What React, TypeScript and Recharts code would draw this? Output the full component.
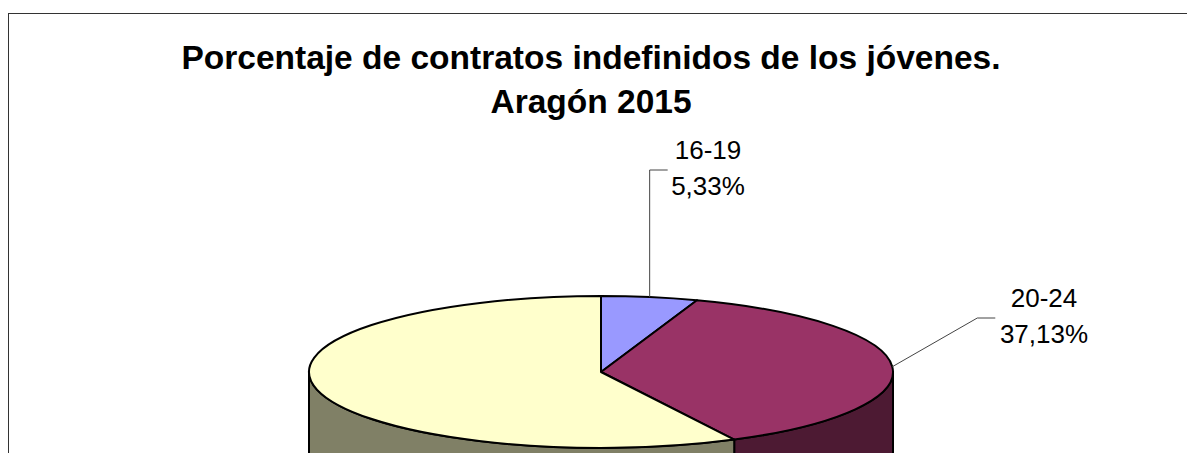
import React from "react";
import { PieChart, Pie } from "recharts";

// age groups and share of permanent contracts (%)
const ageGroups = ["16-19", "20-24", "25-29"];
const shares = [5.33, 37.13, 57.54];
const shareLabels = ["5,33%", "37,13%", "57,54%"];
const topColors = ["#9999FF", "#993366", "#FFFFCC"];
const sideColors = ["#4D4D80", "#4D1A33", "#808066"];

const titleLines = ["Porcentaje de contratos indefinidos de los jóvenes.", "Aragón 2015"];

const data = ageGroups.map((name, i) => ({
  name,
  value: shares[i],
  pct: shareLabels[i],
  top: topColors[i],
  side: sideColors[i],
}));

// leader line layout per label (elbow offset from the pie edge, text centre);
// the third label sits below the visible area in the reference, so it has none
const leaderLayout = [
  { dx: 0, y: 170, textX: 708 },
  { dx: 85, y: 318, textX: 1044 },
];

const TILT = 0.26; // vertical squash of the pie top
const DEPTH = 90;
const RAD = Math.PI / 180;
const FONT = "Arial, 'Liberation Sans', sans-serif";

const onEllipse = (cx: number, cy: number, rx: number, a: number) => ({
  x: cx + rx * Math.cos(a * RAD),
  y: cy - rx * TILT * Math.sin(a * RAD),
});

function Slice3D(props: any) {
  const { cx, cy, outerRadius: rx, startAngle, endAngle } = props;
  const entry = props.payload ?? props;
  const ry = rx * TILT;
  const s = onEllipse(cx, cy, rx, startAngle);
  const e = onEllipse(cx, cy, rx, endAngle);
  const large = Math.abs(startAngle - endAngle) > 180 ? 1 : 0;
  const topPath = `M${cx},${cy} L${s.x},${s.y} A${rx},${ry} 0 ${large} 1 ${e.x},${e.y} Z`;

  // front wall: only the part of the slice on the lower half of the ellipse
  const hi = Math.min(startAngle, 0);
  const lo = Math.max(endAngle, -180);
  let wall = null;
  if (hi > lo) {
    const a = onEllipse(cx, cy, rx, hi);
    const b = onEllipse(cx, cy, rx, lo);
    const d =
      `M${a.x},${a.y} A${rx},${ry} 0 0 1 ${b.x},${b.y} ` +
      `L${b.x},${b.y + DEPTH} A${rx},${ry} 0 0 0 ${a.x},${a.y + DEPTH} Z`;
    wall = <path d={d} fill={entry.side} stroke="#000" strokeWidth={2} strokeLinejoin="round" />;
  }

  return (
    <g>
      {wall}
      <path d={topPath} fill={entry.top} stroke="#000" strokeWidth={2} strokeLinejoin="round" />
    </g>
  );
}

function renderLabel(props: any) {
  const { cx, cy, outerRadius, midAngle, index } = props;
  const L = leaderLayout[index];
  if (!L) return null;
  const entry = props.payload ?? props;
  const p = onEllipse(cx, cy, outerRadius, midAngle);
  const ex = p.x + L.dx;
  return (
    <g>
      <polyline
        points={`${p.x},${p.y} ${ex},${L.y} ${ex + 18},${L.y}`}
        fill="none"
        stroke="#444"
        strokeWidth={1}
      />
      <text x={L.textX} y={L.y - 11} textAnchor="middle" fontSize={26} fontFamily={FONT} fill="#000">
        {entry.name}
      </text>
      <text x={L.textX} y={L.y + 25} textAnchor="middle" fontSize={26} fontFamily={FONT} fill="#000">
        {entry.pct}
      </text>
    </g>
  );
}

export default function App() {
  return (
    <div style={{ position: "absolute", left: 0, top: 0, width: 1187, height: 453, overflow: "hidden", background: "#fff" }}>
      {/* chart area frame, runs off the right and bottom edges */}
      <div
        style={{
          position: "absolute",
          left: 8,
          top: 13,
          width: 1260,
          height: 520,
          border: "1px solid #333",
        }}
      />
      <div style={{ position: "absolute", left: 0, top: 0 }}>
        <PieChart width={1187} height={453} margin={{ top: 0, right: 0, bottom: 0, left: 0 }}>
          <text x={591} y={69} textAnchor="middle" fontSize={33.5} fontWeight="bold" fontFamily={FONT} fill="#000">
            {titleLines[0]}
          </text>
          <text x={591} y={113} textAnchor="middle" fontSize={33.5} fontWeight="bold" fontFamily={FONT} fill="#000">
            {titleLines[1]}
          </text>
          <Pie
            data={data}
            dataKey="value"
            nameKey="name"
            cx={601}
            cy={372}
            outerRadius={292}
            startAngle={90}
            endAngle={-270}
            stroke="none"
            isAnimationActive={false}
            labelLine={false}
            label={renderLabel}
            shape={(p: any) => <Slice3D {...p} />}
          />
        </PieChart>
      </div>
    </div>
  );
}
